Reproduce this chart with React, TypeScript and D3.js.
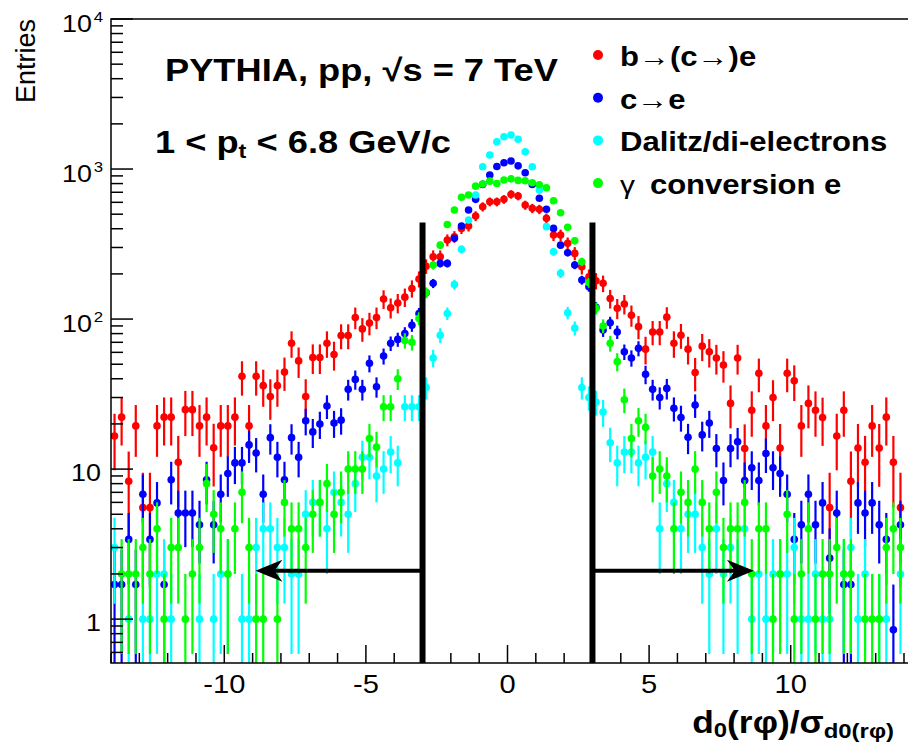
import React from "react";
import * as d3 from "d3";

// ---------- DATA ----------
// 112 bins of width 0.25 from -14 to 14
const binEdges = [-14, 14];
const binWidth = 0.25;

const seriesNames = ["b\u2192(c\u2192)e", "c\u2192e", "Dalitz/di-electrons", "\u03b3 conversion e"];

const bToE = [
  16.6, 22.2, 8.3, 19.4, 5.54, 5.54, 19.4, 22.2, 22.2, 11.1,
  24.9, 24.9, 19.4, 22.2, 13.85, 19.4, 19.4, 22.2, 41.6, 19.4,
  41.6, 36, 30.5, 36, 44.3, 69, 52.6, 30.5, 55.4, 55.4,
  69, 58, 77.6, 77.6, 102.5, 86, 94, 102.5, 136, 119,
  128, 140, 160, 185, 225, 260, 260, 336, 354, 402,
  417, 486, 561, 605, 605, 628, 678, 661, 575, 547,
  539, 469, 363, 363, 320, 274, 223, 191, 180, 173,
  137, 118, 126, 106, 89, 63, 82, 82, 103, 69,
  78, 63, 44, 66, 60.5, 55, 49.4, 27.4, 55, 13.7,
  24.7, 43.5, 19.4, 30, 13.8, 43.5, 38.8, 19.4, 27.4, 24.7,
  22.1, 5.54, 16.6, 24.7, 8.3, 13.8, 11.1, 19.4, 13.8, 22.2,
  11.1, 5.54,
];

const cToE = [
  1.7, 1.7, 3.4, 1.7, 6.8, 3.4, 5.95, 1.7, 8.5, 5.1,
  5.1, 5.1, 4.25, 8.5, 4.25, 6.8, 9.35, 11, 11, 14.5,
  12.8, 6.8, 16.2, 12, 8.5, 16.2, 12, 21, 17.7, 20,
  26.3, 20.3, 21.2, 34, 39.6, 34, 50.7, 35.4, 56.7, 68.9,
  73.2, 80, 91, 109, 150, 173, 235, 235, 345, 417,
  533, 628, 790, 912, 1040, 1100, 1130, 1050, 945, 790,
  638, 539, 402, 311, 277, 229, 182, 164, 120, 84.5,
  94.6, 82, 60.5, 55, 63.8, 42.8, 34, 30, 34.5, 25.4,
  22.1, 16.3, 26.7, 16.9, 20.3, 13.7, 8.4, 13.7, 15.2, 8.4,
  10.2, 8.4, 12.7, 10.2, 9.35, 6.8, 3.4, 4.25, 6.8, 4.25,
  5.95, 2.55, 5.1, 1.7, 1.7, 5.95, 5.1, 5.95, 4.25, 3.4,
  0.85, 4.25,
];

const dalitz = [
  3, 0, 1, 0, 1, 1, 2, 2, 1, 0,
  0, 0, 1, 0, 1, 2, 2, 0, 1, 1,
  3, 4, 4, 3, 3, 2, 2, 5, 6, 6,
  4, 7, 6, 5, 8, 12, 12, 9, 10, 13,
  11, 26, 26, 26, 35, 55, 78, 109, 170, 292,
  457, 671, 1036, 1240, 1520, 1641, 1686, 1578, 1304, 1036,
  724, 413, 281, 202, 110, 87, 35, 30, 28, 24,
  15, 11, 13, 13, 11, 12, 13, 4, 8, 6,
  4, 5, 5, 3, 2, 4, 2, 3, 2, 4,
  1, 2, 1, 2, 2, 2, 3, 1, 1, 2,
  1, 1, 0, 2, 3, 1, 2, 0, 1, 1,
  0, 2,
];

const gammaConv = [
  0, 2, 2, 2, 3, 2, 4, 1, 3, 3,
  1, 2, 3, 8, 5, 4, 2, 4, 7, 3,
  1, 1, 0, 1, 6, 4, 4, 3, 5, 6,
  8, 5, 7, 10, 10, 10, 16, 14, 26, 26,
  40, 72, 70, 101, 150, 229, 311, 427, 533, 649,
  671, 769, 794, 830, 800, 845, 860, 840, 835, 810,
  785, 750, 615, 511, 409, 333, 241, 175, 118, 90,
  69, 52, 29, 16, 21, 19, 9, 10, 9, 4,
  7, 6, 10, 6, 4, 7, 3, 4, 4, 6,
  2, 4, 4, 1, 2, 5, 1, 2, 4, 1,
  2, 2, 3, 2, 2, 0, 1, 1, 1, 3,
  4, 3,
];

// entries per unit weight (error = sqrt(weight * value))
const seriesWeights = [2.77, 0.85, 1, 1];

const cutValues = [-3, 3];
const cutLineTop = 440;
const arrowTips = [-8.9, 8.7];
const arrowLevel = 2.1;

const xMajorTicks = [-10, -5, 0, 5, 10];
const yMajorTicks = [1, 10, 100, 1000, 10000];
const yTickExponents = ["", "", "2", "3", "4"];

// ---------- LAYOUT ----------
const W = 908;
const H = 745;
const PL = 111, PR = 904, PT = 19, PB = 663;
const FONT = "'Liberation Sans', Arial, Helvetica, sans-serif";
const colors = ["#ff0000", "#0000ff", "#00ffff", "#00ff00"];

function SText({ x, y, anchor = "start", size, weight = "normal", sx = 1.12, children }: any) {
  return (
    <g transform={`translate(${x},${y}) scale(${sx},1)`}>
      <text x={0} y={0} textAnchor={anchor} fontSize={size} fontWeight={weight} fontFamily={FONT} fill="#000">
        {children}
      </text>
    </g>
  );
}

export default function App() {
  const x = d3.scaleLinear().domain(binEdges).range([PL, PR]);
  const y = d3.scaleLog().domain([0.51, 1e4]).range([PB, PT]);
  const nBins = Math.round((binEdges[1] - binEdges[0]) / binWidth);
  const centers = d3.range(nBins).map((i) => binEdges[0] + binWidth * (i + 0.5));
  const allSeries = [bToE, cToE, dalitz, gammaConv];

  const xMinor = d3.range(binEdges[0], binEdges[1] + 1, 1).filter((v) => !xMajorTicks.includes(v));
  const yMinor: number[] = [];
  for (let e = -1; e <= 3; e++) for (let k = 2; k <= 9; k++) {
    const v = k * Math.pow(10, e);
    if (v > 0.51 && v < 1e4) yMinor.push(v);
  }

  const arrowHead = (tipX: number, dir: number, yy: number) => {
    const L = 27, Hh = 11, notch = 8;
    const bx = tipX - dir * L;
    return `M${tipX},${yy} L${bx},${yy - Hh} L${bx + dir * notch},${yy} L${bx},${yy + Hh} Z`;
  };

  return (
    <svg width={W} height={H} style={{ position: "absolute", left: 0, top: 0, background: "#fff" }}>
      <defs>
        <clipPath id="plot">
          <rect x={PL} y={PT} width={W - PL} height={PB - PT} />
        </clipPath>
      </defs>
      <rect x={0} y={0} width={W} height={H} fill="#fff" />

      {/* data */}
      <g clipPath="url(#plot)">
        {allSeries.map((vals, s) => (
          <g key={s}>
            {vals.map((v, i) => {
              if (!(v > 0)) return null;
              const err = Math.sqrt(seriesWeights[s] * v);
              const lo = Math.max(v - err, 0.3);
              const cx = x(centers[i]);
              return (
                <g key={i}>
                  <line x1={cx} x2={cx} y1={y(lo)} y2={y(v + err)} stroke={colors[s]} strokeWidth={2.2} />
                  <circle cx={cx} cy={y(v)} r={3.8} fill={colors[s]} />
                </g>
              );
            })}
          </g>
        ))}
      </g>

      {/* cut lines and arrows */}
      {cutValues.map((c, k) => (
        <g key={k}>
          <line x1={x(c)} x2={x(c)} y1={y(cutLineTop)} y2={PB} stroke="#000" strokeWidth={6} />
          <line x1={x(c)} x2={x(arrowTips[k]) - Math.sign(arrowTips[k]) * 18} y1={y(arrowLevel)} y2={y(arrowLevel)} stroke="#000" strokeWidth={4} />
          <path d={arrowHead(x(arrowTips[k]), Math.sign(arrowTips[k]), y(arrowLevel))} fill="#000" />
        </g>
      ))}

      {/* frame (right border lies outside the picture) */}
      <path d={`M${W},${PT} H${PL} V${PB} H${W}`} fill="none" stroke="#000" strokeWidth={1.5} />

      {/* x ticks */}
      {xMajorTicks.map((t) => (
        <g key={t}>
          <line x1={x(t)} x2={x(t)} y1={PB} y2={PB - 18} stroke="#000" strokeWidth={1.5} />
          <SText x={x(t)} y={693} anchor="middle" size={26}>{t}</SText>
        </g>
      ))}
      {xMinor.map((t) => (
        <line key={t} x1={x(t)} x2={x(t)} y1={PB} y2={PB - 10} stroke="#000" strokeWidth={1.5} />
      ))}

      {/* y ticks */}
      {yMajorTicks.map((t, i) => (
        <g key={t}>
          <line x1={PL} x2={PL + 22} y1={y(t)} y2={y(t)} stroke="#000" strokeWidth={1.5} />
          {yTickExponents[i] ? (
            <>
              <SText x={92} y={y(t) + 13} anchor="end" size={24}>10</SText>
              <SText x={103} y={y(t) + 3} anchor="end" size={15}>{yTickExponents[i]}</SText>
            </>
          ) : (
            <SText x={101} y={y(t) + 12} anchor="end" size={24}>{t}</SText>
          )}
        </g>
      ))}
      {yMinor.map((t) => (
        <line key={t} x1={PL} x2={PL + 12} y1={y(t)} y2={y(t)} stroke="#000" strokeWidth={1.5} />
      ))}

      {/* axis titles */}
      <g transform="translate(35,19) rotate(-90)">
        <text textAnchor="end" fontFamily={FONT} fontSize={27} fill="#000">Entries</text>
      </g>
      <g transform={`translate(894,733) scale(1.14,1)`}>
        <text textAnchor="end" fontFamily={FONT} fontWeight="bold" fontSize={31}>
          <tspan>d</tspan>
          <tspan fontSize={21} dy={4}>0</tspan>
          <tspan dy={-4}>(r{"\u03c6"})/{"\u03c3"}</tspan>
          <tspan fontSize={21} dy={5}>d0(r{"\u03c6"})</tspan>
        </text>
      </g>

      {/* annotations */}
      <SText x={165} y={81} size={31} weight="bold" sx={1.17}>PYTHIA, pp, {"\u221a"}s = 7 TeV</SText>
      <g transform={`translate(155,153) scale(1.17,1)`}>
        <text fontFamily={FONT} fontWeight="bold" fontSize={31}>
          <tspan>1 &lt; p</tspan>
          <tspan fontSize={20} dy={5}>t</tspan>
          <tspan dy={-5}> &lt; 6.8 GeV/c</tspan>
        </text>
      </g>

      {/* legend */}
      {seriesNames.map((n, i) => {
        const ly = 55 + i * 42.7;
        return (
          <g key={n}>
            <circle cx={598} cy={ly} r={5} fill={colors[i]} />
            {i === 3 ? (
              <g transform={`translate(620,${ly + 11}) scale(1.15,1)`}>
                <text fontFamily={FONT} fontWeight="bold" fontSize={27}>
                  <tspan fontWeight="normal" fontSize={26}>{"\u03b3"}</tspan>
                  <tspan dx={13}>conversion e</tspan>
                </text>
              </g>
            ) : (
              <SText x={620} y={ly + 11} size={27} weight="bold" sx={1.15}>{n}</SText>
            )}
          </g>
        );
      })}
    </svg>
  );
}
